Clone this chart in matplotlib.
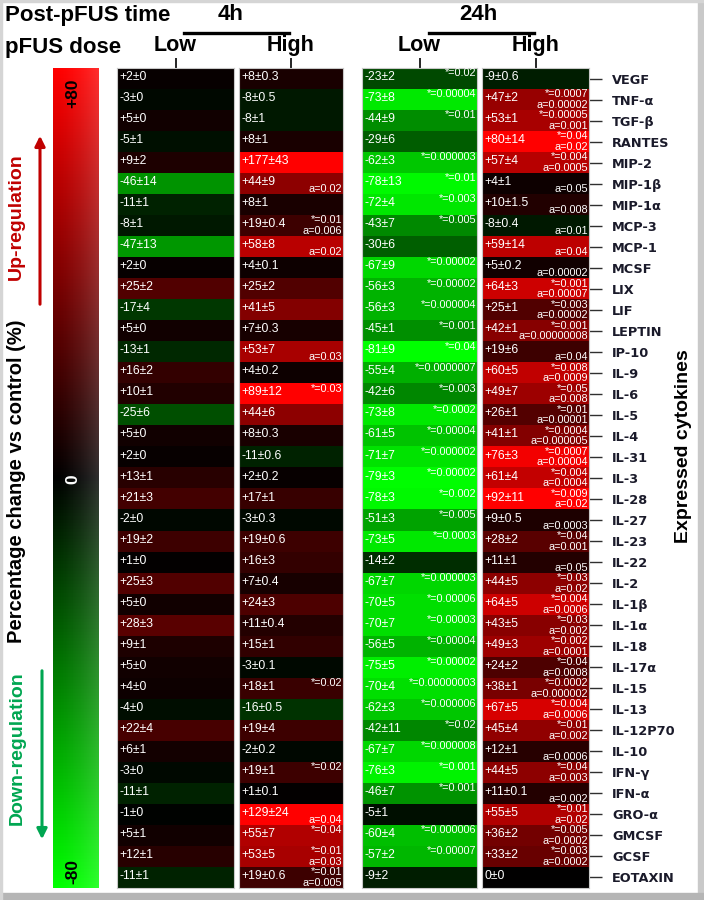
import numpy as np
import matplotlib
matplotlib.use("Agg")
import matplotlib.pyplot as plt
from matplotlib.colors import LinearSegmentedColormap
from matplotlib.patches import Rectangle, FancyArrowPatch
from matplotlib.lines import Line2D
import matplotlib.cm as cm
import matplotlib.colors as mcolors

# ---------------- data ----------------
cytokines = ["VEGF", "TNF-α", "TGF-β", "RANTES", "MIP-2", "MIP-1β", "MIP-1α", "MCP-3",
             "MCP-1", "MCSF", "LIX", "LIF", "LEPTIN", "IP-10", "IL-9", "IL-6", "IL-5",
             "IL-4", "IL-31", "IL-3", "IL-28", "IL-27", "IL-23", "IL-22", "IL-2", "IL-1β",
             "IL-1α", "IL-18", "IL-17α", "IL-15", "IL-13", "IL-12P70", "IL-10", "IFN-γ",
             "IFN-α", "GRO-α", "GMCSF", "GCSF", "EOTAXIN"]

low4_mean = [2, -3, 5, -5, 9, -46, -11, -8, -47, 2, 25, -17, 5, -13, 16, 10, -25, 5, 2, 13,
             21, -2, 19, 1, 25, 5, 28, 9, 5, 4, -4, 22, 6, -3, -11, -1, 5, 12, -11]
low4_err = [0, 0, 0, 1, 2, 14, 1, 1, 13, 0, 2, 4, 0, 1, 2, 1, 6, 0, 0, 1,
            3, 0, 2, 0, 3, 0, 3, 1, 0, 0, 0, 4, 1, 0, 1, 0, 1, 1, 1]

high4_mean = [8, -8, -8, 8, 177, 44, 8, 19, 58, 4, 25, 41, 7, 53, 4, 89, 44, 8, -11, 2,
              17, -3, 19, 16, 7, 24, 11, 15, -3, 18, -16, 19, -2, 19, 1, 129, 55, 53, 19]
high4_err = [0.3, 0.5, 1, 1, 43, 9, 1, 0.4, 8, 0.1, 2, 5, 0.3, 7, 0.2, 12, 6, 0.3, 0.6, 0.2,
             1, 0.3, 0.6, 3, 0.4, 3, 0.4, 1, 0.1, 1, 0.5, 4, 0.2, 1, 0.1, 24, 7, 5, 0.6]
high4_star = [None, None, None, None, None, None, None, "0.01", None, None, None, None, None,
              None, None, "0.03", None, None, None, None, None, None, None, None, None, None,
              None, None, None, "0.02", None, None, None, "0.02", None, None, "0.04", "0.01",
              "0.01"]
high4_a = [None, None, None, None, None, "0.02", None, "0.006", "0.02", None, None, None, None,
           "0.03", None, None, None, None, None, None, None, None, None, None, None, None,
           None, None, None, None, None, None, None, None, None, "0.04", None, "0.03", "0.005"]

low24_mean = [-23, -73, -44, -29, -62, -78, -72, -43, -30, -67, -56, -56, -45, -81, -55, -42,
              -73, -61, -71, -79, -78, -51, -73, -14, -67, -70, -70, -56, -75, -70, -62, -42,
              -67, -76, -46, -5, -60, -57, -9]
low24_err = [2, 8, 9, 6, 3, 13, 4, 7, 6, 9, 3, 3, 1, 9, 4, 6, 8, 5, 7, 3, 3, 3, 5, 2, 7, 5,
             7, 5, 5, 4, 3, 11, 7, 3, 7, 1, 4, 2, 2]
low24_star = ["0.02", "0.00004", "0.01", None, "0.000003", "0.01", "0.003", "0.005", None,
              "0.00002", "0.00002", "0.000004", "0.001", "0.04", "0.0000007", "0.003", "0.0002",
              "0.00004", "0.000002", "0.00002", "0.002", "0.005", "0.0003", None, "0.000003",
              "0.00006", "0.00003", "0.00004", "0.00002", "0.00000003", "0.000006", "0.02",
              "0.000008", "0.001", "0.001", None, "0.000006", "0.00007", None]

high24_mean = [-9, 47, 53, 80, 57, 4, 10, -8, 59, 5, 64, 25, 42, 19, 60, 49, 26, 41, 76, 61,
               92, 9, 28, 11, 44, 64, 43, 49, 24, 38, 67, 45, 12, 44, 11, 55, 36, 33, 0]
high24_err = [0.6, 2, 1, 14, 4, 1, 1.5, 0.4, 14, 0.2, 3, 1, 1, 6, 5, 7, 1, 1, 3, 4, 11, 0.5,
              2, 1, 5, 5, 5, 3, 2, 1, 5, 4, 1, 5, 0.1, 5, 2, 2, 0]
high24_star = [None, "0.0007", "0.00005", "0.04", "0.004", None, None, None, None, None,
               "0.001", "0.003", "0.001", None, "0.008", "0.05", "0.01", "0.0004", "0.0007",
               "0.004", "0.009", None, "0.04", None, "0.03", "0.004", "0.03", "0.002", "0.04",
               "0.0002", "0.004", "0.01", None, "0.04", None, "0.01", "0.005", "0.003", None]
high24_a = [None, "0.00002", "0.001", "0.02", "0.0005", "0.05", "0.008", "0.01", "0.04",
            "0.00002", "0.00007", "0.00002", "0.00000008", "0.04", "0.0009", "0.008", "0.00001",
            "0.000005", "0.00004", "0.0004", "0.02", "0.0003", "0.001", "0.05", "0.02", "0.0006",
            "0.002", "0.0001", "0.0008", "0.000002", "0.0006", "0.002", "0.0006", "0.003",
            "0.002", "0.02", "0.0002", "0.0002", None]

dose_labels = ["Low", "High", "Low", "High"]
time_labels = ["4h", "24h"]
cbar_labels = ["+80", "0", "-80"]

columns = [
    (low4_mean, low4_err, [None] * 39, [None] * 39),
    (high4_mean, high4_err, high4_star, high4_a),
    (low24_mean, low24_err, low24_star, [None] * 39),
    (high24_mean, high24_err, high24_star, high24_a),
]

# ---------------- styling ----------------
W, H = 704, 900
fig = plt.figure(figsize=(W / 100, H / 100), dpi=100)
fig.patch.set_facecolor("white")

cmap = LinearSegmentedColormap.from_list("gkr", [(0, 1, 0), (0, 0, 0), (1, 0, 0)])
norm = mcolors.Normalize(vmin=-80, vmax=80)

ARIAL = ["Liberation Sans", "DejaVu Sans"]

def fx(x):
    return x / W

def fy(y):
    return 1 - y / H

top_px, bot_px = 68, 888
col_px = [(117, 234), (239, 343), (362, 477), (482, 589)]


def fmt_val(v):
    if v > 0:
        return f"+{v:g}"
    if v < 0:
        return f"-{abs(v):g}"
    return "0"


axes = []
for j, ((x0, x1), (mean, err, star, aval)) in enumerate(zip(col_px, columns)):
    ax = fig.add_axes([fx(x0), fy(bot_px), (x1 - x0) / W, (bot_px - top_px) / H])
    arr = np.array(mean, dtype=float).reshape(-1, 1)
    ax.imshow(arr, cmap=cmap, norm=norm, aspect="auto", interpolation="nearest")
    ax.set_xlim(-0.5, 0.5)
    ax.set_ylim(len(mean) - 0.5, -0.5)
    for s in ax.spines.values():
        s.set_color("#c8c8c8")
        s.set_linewidth(0.8)
    tr = ax.get_yaxis_transform()
    for i in range(len(mean)):
        ax.text(0.02, i - 0.07, f"{fmt_val(mean[i])}±{err[i]:g}", transform=tr,
                color="white", fontsize=8.7, family=ARIAL, ha="left", va="center")
        if star[i] is not None:
            ax.text(0.995, i - 0.25, f"*={star[i]}", transform=tr, color="white",
                    fontsize=7.8, family=ARIAL, ha="right", va="center")
        if aval[i] is not None:
            ax.text(0.995, i + 0.26, f"a={aval[i]}", transform=tr, color="white",
                    fontsize=7.8, family=ARIAL, ha="right", va="center")
    # dose label as top tick
    ax.set_xticks([0])
    ax.set_xticklabels([dose_labels[j]])
    ax.xaxis.set_ticks_position("top")
    ax.tick_params(axis="x", length=7.5, width=1.2, pad=1, colors="black")
    for lbl in ax.get_xticklabels():
        lbl.set_fontsize(15.5)
        lbl.set_fontweight("bold")
        lbl.set_family(ARIAL)
    if j == 3:
        ax.yaxis.set_ticks_position("right")
        ax.set_yticks(range(len(cytokines)))
        ax.set_yticklabels(cytokines)
        ax.tick_params(axis="y", length=9.5, width=1.0, pad=7, colors="#303030")
        for lbl in ax.get_yticklabels():
            lbl.set_fontsize(9.3)
            lbl.set_fontweight("bold")
            lbl.set_family("DejaVu Sans")
            lbl.set_color("#1a1a2a")
    else:
        ax.set_yticks([])
    axes.append(ax)

# ---------------- colour bar ----------------
cax = fig.add_axes([fx(53), fy(bot_px), (99 - 53) / W, (bot_px - top_px) / H])
sm = cm.ScalarMappable(norm=norm, cmap=cmap)
cb = fig.colorbar(sm, cax=cax)
cb.set_ticks([])
cb.outline.set_visible(False)
# light sheen on right side
sheen = np.zeros((2, 64, 4))
sheen[..., :3] = 1.0
sheen[..., 3] = np.linspace(0, 0.35, 64) ** 1.6
cax.imshow(sheen, extent=[0, 1, -80, 80], aspect="auto", transform=cax.transAxes, zorder=3)
cax.set_xlim(0, 1)
cax.set_ylim(-80, 80)

fig.text(fx(73), fy(93), cbar_labels[0], rotation=90, ha="center", va="center",
         fontsize=12.5, fontweight="bold", family=ARIAL, color="black")
fig.text(fx(73), fy(479), cbar_labels[1], rotation=90, ha="center", va="center",
         fontsize=12.5, fontweight="bold", family=ARIAL, color="white")
fig.text(fx(73), fy(872), cbar_labels[2], rotation=90, ha="center", va="center",
         fontsize=12.5, fontweight="bold", family=ARIAL, color="black")

# left descriptive texts
fig.text(fx(17), fy(481), "Percentage change vs control (%)", rotation=90, ha="center",
         va="center", fontsize=14.5, fontweight="bold", family=ARIAL, color="black")
fig.text(fx(16), fy(217), "Up-regulation", rotation=90, ha="center", va="center",
         fontsize=14, fontweight="bold", family=ARIAL, color="#c00000")
fig.text(fx(17), fy(748), "Down-regulation", rotation=90, ha="center", va="center",
         fontsize=14, fontweight="bold", family=ARIAL, color="#00a651")

fig.patches.append(FancyArrowPatch((fx(40), fy(307)), (fx(40), fy(133)),
                                   transform=fig.transFigure, arrowstyle="-|>",
                                   mutation_scale=15, lw=2.2, color="#c00000"))
fig.patches.append(FancyArrowPatch((fx(42), fy(668)), (fx(42), fy(842)),
                                   transform=fig.transFigure, arrowstyle="-|>",
                                   mutation_scale=15, lw=2.2, color="#00a651"))

# right axis title
fig.text(fx(684), fy(446), "Expressed cytokines", rotation=90, ha="center", va="center",
         fontsize=14, fontweight="bold", family=ARIAL, color="black")

# header
fig.text(fx(5), fy(16), "Post-pFUS time", ha="left", va="center", fontsize=16,
         fontweight="bold", family=ARIAL)
fig.text(fx(5), fy(48), "pFUS dose", ha="left", va="center", fontsize=16,
         fontweight="bold", family=ARIAL)
fig.text(fx(231), fy(14), time_labels[0], ha="center", va="center", fontsize=16,
         fontweight="bold", family=ARIAL)
fig.text(fx(478), fy(14), time_labels[1], ha="center", va="center", fontsize=16,
         fontweight="bold", family=ARIAL)
fig.add_artist(Line2D([fx(184), fx(289)], [fy(33), fy(33)], lw=2.4, color="black"))
fig.add_artist(Line2D([fx(429), fx(534)], [fy(33), fy(33)], lw=2.4, color="black"))

# screenshot-like grey frame
fig.patches.append(Rectangle((fx(698), 0), fx(6), 1, transform=fig.transFigure,
                             color="#c9c9c9", zorder=0))
fig.patches.append(Rectangle((0, 0), 1, 7 / H, transform=fig.transFigure,
                             color="#b5b5b5", zorder=0))
fig.patches.append(Rectangle((0, 0), fx(2), 1, transform=fig.transFigure,
                             color="#d5d5d5", zorder=0))
fig.patches.append(Rectangle((0, 1 - 2 / H), 1, 2 / H, transform=fig.transFigure,
                             color="#d5d5d5", zorder=0))

fig.savefig("out.png", dpi=100, facecolor="white")
